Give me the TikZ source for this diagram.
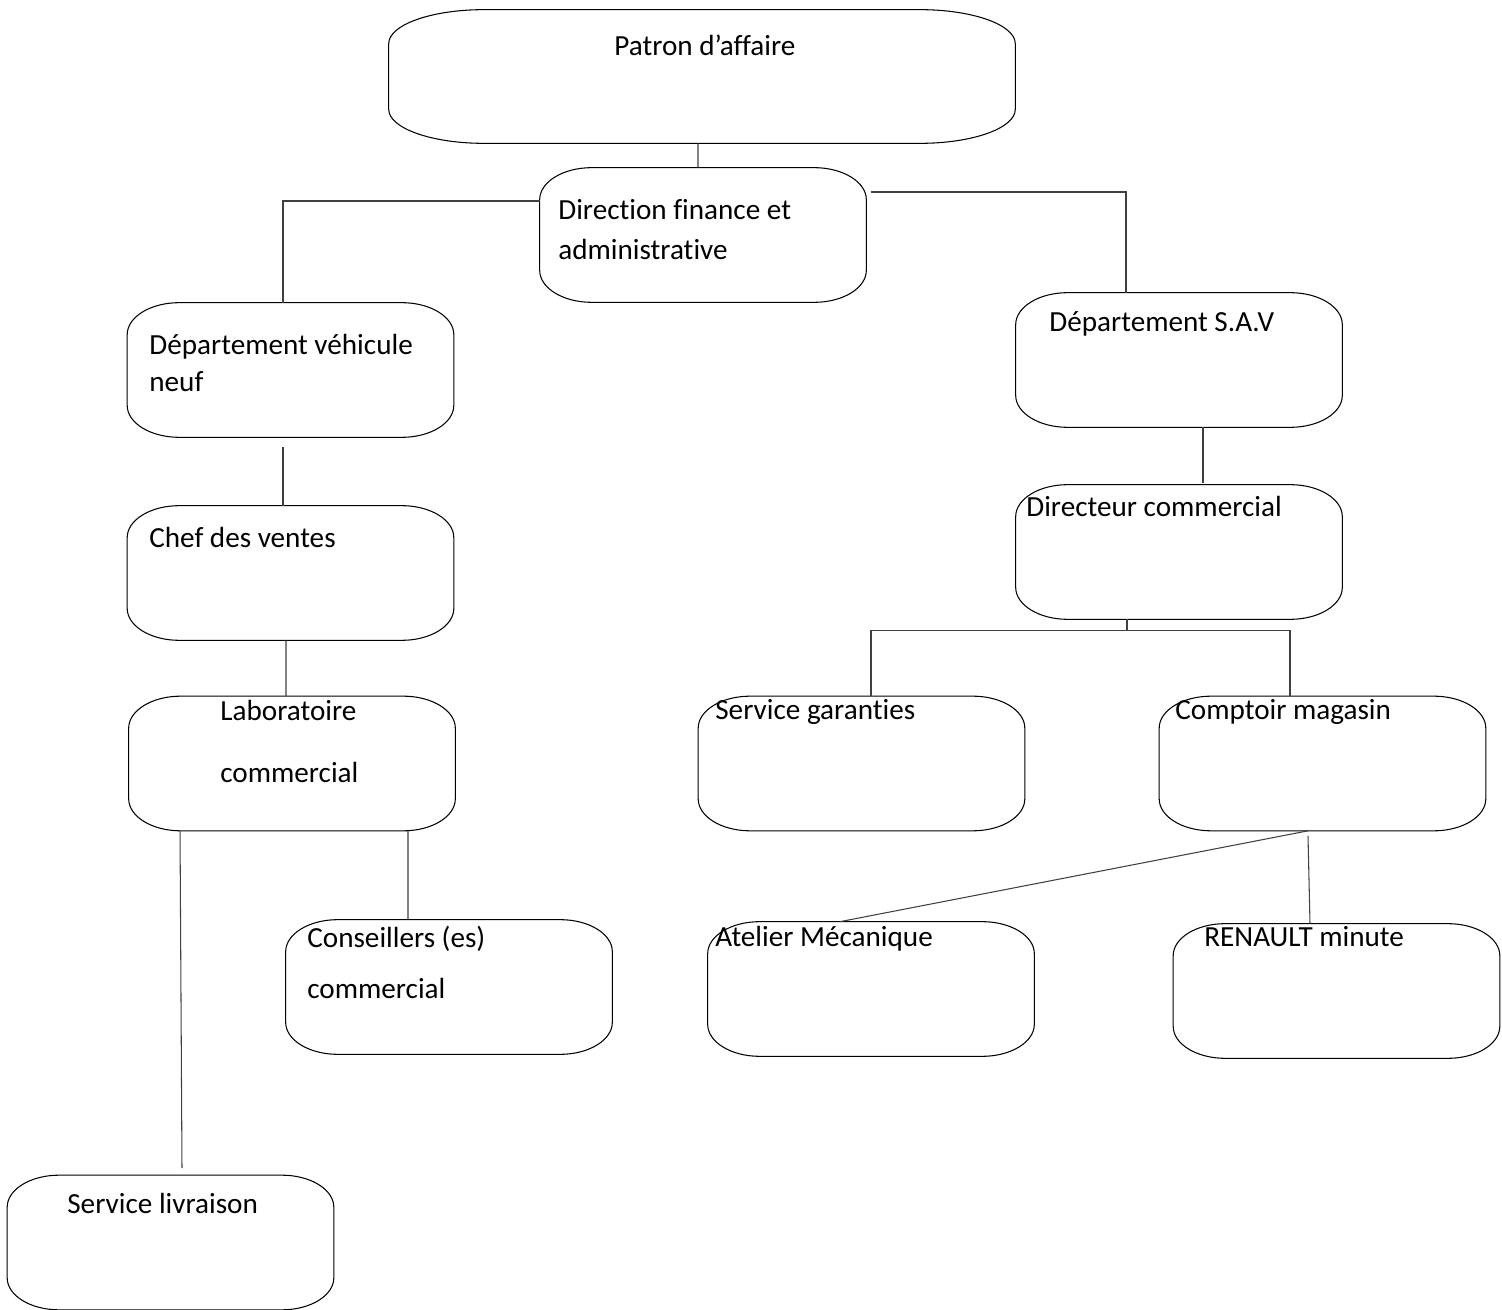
\documentclass[tikz,border=0pt]{standalone}
\usepackage{fontspec}
\setmainfont{Carlito}[Ligatures=NoCommon]
\usetikzlibrary{positioning}

% oval outline round a node: #1 node, #2 x radius, #3 y radius
\newcommand{\ovalout}[3]{%
  \draw[line width=0.6pt]
    ([xshift=#2]#1.north west) -- ([xshift=-#2]#1.north east)
    .. controls ([xshift=-0.448*#2]#1.north east) and ([yshift=-0.448*#3]#1.north east) .. ([yshift=-#3]#1.north east)
    -- ([yshift=#3]#1.south east)
    .. controls ([yshift=0.448*#3]#1.south east) and ([xshift=-0.448*#2]#1.south east) .. ([xshift=-#2]#1.south east)
    -- ([xshift=#2]#1.south west)
    .. controls ([xshift=0.448*#2]#1.south west) and ([yshift=0.448*#3]#1.south west) .. ([yshift=#3]#1.south west)
    -- ([yshift=-#3]#1.north west)
    .. controls ([yshift=-0.448*#3]#1.north west) and ([xshift=0.448*#2]#1.north west) .. cycle;}

\begin{document}
\begin{tikzpicture}[
    x=0.02cm, y=-0.02cm,
    unit/.style={
      rectangle,
      minimum width=6.52cm, minimum height=2.68cm,
      inner sep=0pt
    },
    txt/.style={anchor=base west, inner sep=0pt, font=\fontsize{16.6}{20}\selectfont},
    link/.style={draw=black!75, line width=0.6pt}
  ]
    \useasboundingbox (0,0) rectangle (1502,1310);

    % boxes
    \node[unit, minimum width=12.52cm, minimum height=2.66cm] (patron) at (702,76.5) {};
    \node[unit] (dir) at (703,235) {};
    \node[unit] (dvn) at (290.5,370) {};
    \node[unit] (sav) at (1179,360) {};
    \node[unit] (chef) at (290.5,573) {};
    \node[unit] (dircom) at (1179,552) {};
    \node[unit] (labo) at (292,763.5) {};
    \node[unit] (gar) at (861.5,763.5) {};
    \node[unit] (comp) at (1322.5,763.5) {};
    \node[unit] (cons) at (449,987) {};
    \node[unit] (atel) at (871,989) {};
    \node[unit] (ren) at (1336.5,991) {};
    \node[unit] (livr) at (170.5,1242.5) {};

    \ovalout{patron}{1.9cm}{0.68cm}
    \foreach \n in {dir,dvn,sav,chef,dircom,labo,gar,comp,cons,atel,ren,livr}
      {\ovalout{\n}{1.04cm}{0.64cm}}

    % texts
    \node[txt] (patron-t) at (614,56) {Patron d’affaire};
    \node[txt] (dir-a) at (558,220) {Direction finance et};
    \node[txt] (dir-b) at (558,260) {administrative};
    \node[txt] (dvn-a) at (149,355) {Département véhicule};
    \node[txt] (dvn-b) at (149,392) {neuf};
    \node[txt] (sav-t) at (1049,332) {Département S.A.V};
    \node[txt] (chef-t) at (149,548) {Chef des ventes};
    \node[txt] (dircom-t) at (1026,517) {Directeur commercial};
    \node[txt] (labo-a) at (220,721) {Laboratoire};
    \node[txt] (labo-b) at (220,783) {commercial};
    \node[txt] (gar-t) at (715,720) {Service garanties};
    \node[txt] (comp-t) at (1175,720) {Comptoir magasin};
    \node[txt] (cons-a) at (307,948) {Conseillers (es)};
    \node[txt] (cons-b) at (307,998) {commercial};
    \node[txt] (atel-t) at (715,947) {Atelier Mécanique};
    \node[txt] (ren-t) at (1204,947) {RENAULT minute};
    \node[txt] (livr-t) at (67,1213) {Service livraison};

    % links
    \coordinate (fork) at ([xshift=-1.04cm,yshift=-0.22cm]dircom.south);

    \draw[link] ([xshift=-0.08cm]patron.south) -- ([xshift=-0.1cm]dir.north);
    \draw[link] ([yshift=0.68cm]dir.west) -| ([xshift=-0.15cm]dvn.north);
    \draw[link] ([xshift=0.1cm,yshift=0.86cm]dir.east) -| ([xshift=-1.06cm]sav.north);
    \draw[link] ([xshift=-0.15cm,yshift=-0.2cm]dvn.south) -- ([xshift=-0.15cm]chef.north);
    \draw[link] ([xshift=-0.09cm]chef.south) -- ([xshift=-0.12cm]labo.north);
    \draw[link] ([xshift=-2.24cm]labo.south) -- ([xshift=0.23cm,yshift=0.14cm]livr.north);
    \draw[link] ([xshift=2.32cm]labo.south) -- ([xshift=-0.82cm]cons.north);
    \draw[link] ([xshift=0.48cm]sav.south) -- ([xshift=0.48cm,yshift=0.04cm]dircom.north);
    \draw[link] ([xshift=-1.04cm]dircom.south) -- (fork);
    \draw[link] ([xshift=0.19cm]gar.north) |- (fork) -| ([xshift=-0.65cm]comp.north);
    \draw[link] ([xshift=-0.29cm]comp.south) -- ([xshift=-0.62cm]atel.north);
    \draw[link] ([xshift=-0.29cm,yshift=-0.1cm]comp.south) -- ([xshift=-0.53cm]ren.north);
  \end{tikzpicture}
\end{document}
